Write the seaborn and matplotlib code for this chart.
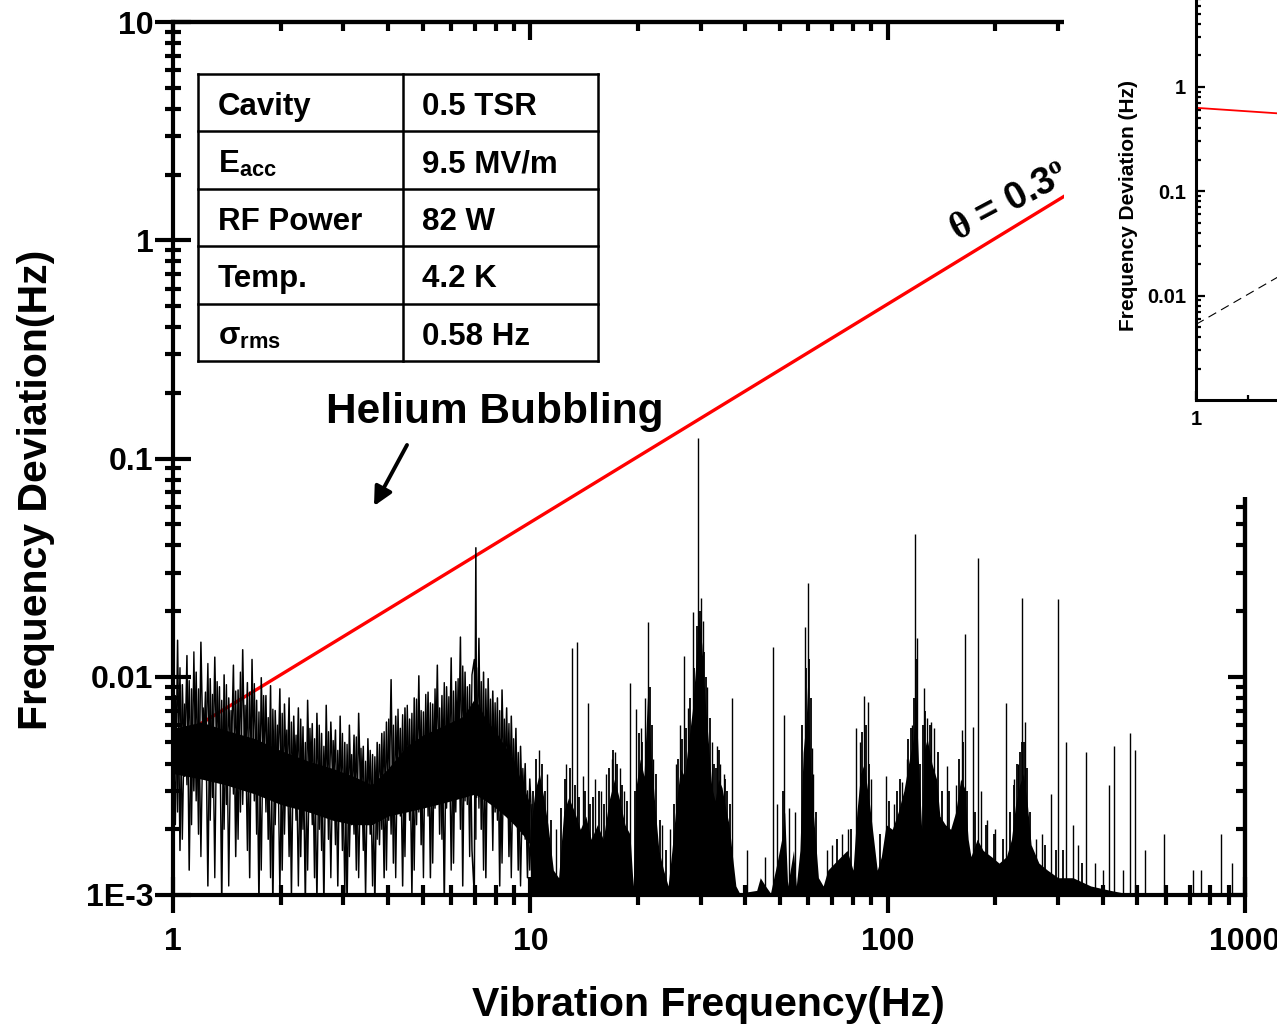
import numpy as np
import matplotlib
matplotlib.use("Agg")
import matplotlib.pyplot as plt
import seaborn as sns
from matplotlib.patches import Rectangle
from matplotlib.ticker import LogLocator, NullFormatter

# ---------------- data ----------------
# theta = 0.3 deg threshold line
theta_freq = [1.0, 1000.0]
theta_dev = [0.0051, 5.1]

# low-frequency noise 1-10 Hz (two interleaved zig-zag traces)
noise_freq = [
    1.000, 1.015, 1.030, 1.046, 1.062, 1.078, 1.094, 1.110, 1.127, 1.144,
    1.161, 1.179, 1.197, 1.215, 1.233, 1.252, 1.271, 1.290, 1.309, 1.329,
    1.349, 1.369, 1.390, 1.411, 1.432, 1.454, 1.476, 1.498, 1.521, 1.544,
    1.567, 1.591, 1.615, 1.639, 1.664, 1.689, 1.714, 1.740, 1.766, 1.793,
    1.820, 1.847, 1.875, 1.903, 1.932, 1.961, 1.991, 2.021, 2.051, 2.082,
    2.113, 2.145, 2.177, 2.210, 2.243, 2.277, 2.311, 2.346, 2.381, 2.417,
    2.453, 2.490, 2.528, 2.566, 2.605, 2.644, 2.684, 2.724, 2.765, 2.807,
    2.849, 2.892, 2.936, 2.980, 3.025, 3.070, 3.116, 3.163, 3.211, 3.259,
    3.308, 3.358, 3.408, 3.459, 3.511, 3.564, 3.618, 3.672, 3.727, 3.783,
    3.840, 3.898, 3.957, 4.016, 4.077, 4.138, 4.200, 4.263, 4.327, 4.392,
    4.458, 4.525, 4.593, 4.662, 4.732, 4.803, 4.875, 4.948, 5.022, 5.097,
    5.174, 5.252, 5.331, 5.411, 5.492, 5.574, 5.658, 5.743, 5.829, 5.916,
    6.005, 6.095, 6.186, 6.279, 6.373, 6.469, 6.566, 6.664, 6.764, 6.866,
    6.969, 7.040, 7.074, 7.180, 7.288, 7.397, 7.508, 7.621, 7.735, 7.851,
    7.969, 8.089, 8.210, 8.333, 8.458, 8.585, 8.714, 8.845, 8.978, 9.113,
    9.250, 9.389, 9.530, 9.673, 9.818, 9.965, 10.11,
]
noise_dev_a = [
    0.0058, 0.0021, 0.0147, 0.0016, 0.0092, 0.0035, 0.0125, 0.0013, 0.0088, 0.0030,
    0.0105, 0.0019, 0.0144, 0.0040, 0.0085, 0.0011, 0.0098, 0.0028, 0.0123, 0.0033,
    0.0090, 0.0009, 0.0102, 0.0026, 0.0080, 0.0038, 0.0113, 0.0015, 0.0087, 0.0024,
    0.0133, 0.0031, 0.0094, 0.0012, 0.0120, 0.0027, 0.0078, 0.0009, 0.0099, 0.0034,
    0.0082, 0.0018, 0.0091, 0.0009, 0.0070, 0.0029, 0.0088, 0.0013, 0.0075, 0.0026,
    0.0080, 0.0010, 0.0066, 0.0022, 0.0072, 0.0015, 0.0059, 0.0009, 0.0078, 0.0024,
    0.0061, 0.0012, 0.0068, 0.0020, 0.0055, 0.0009, 0.0074, 0.0018, 0.0062, 0.0028,
    0.0057, 0.0011, 0.0066, 0.0016, 0.0050, 0.0009, 0.0060, 0.0021, 0.0054, 0.0013,
    0.0068, 0.0024, 0.0048, 0.0010, 0.0052, 0.0019, 0.0044, 0.0009, 0.0050, 0.0017,
    0.0055, 0.0012, 0.0062, 0.0022, 0.0097, 0.0014, 0.0066, 0.0024, 0.0058, 0.0011,
    0.0072, 0.0026, 0.0064, 0.0010, 0.0080, 0.0021, 0.0101, 0.0017, 0.0069, 0.0027,
    0.0085, 0.0012, 0.0075, 0.0025, 0.0113, 0.0019, 0.0082, 0.0009, 0.0090, 0.0028,
    0.0122, 0.0014, 0.0095, 0.0030, 0.0152, 0.0011, 0.0105, 0.0026, 0.0092, 0.0016,
    0.0010, 0.0390, 0.0028, 0.0150, 0.0020, 0.0105, 0.0012, 0.0098, 0.0030, 0.0086,
    0.0024, 0.0080, 0.0011, 0.0087, 0.0027, 0.0072, 0.0015, 0.0066, 0.0022, 0.0058,
    0.0013, 0.0048, 0.0019, 0.0040, 0.0012, 0.0034, 0.0020,
]
noise_dev_b = [
    0.0030, 0.0082, 0.0024, 0.0110, 0.0018, 0.0075, 0.0032, 0.0096, 0.0021, 0.0130,
    0.0027, 0.0088, 0.0015, 0.0072, 0.0036, 0.0115, 0.0022, 0.0083, 0.0012, 0.0095,
    0.0033, 0.0078, 0.0020, 0.0092, 0.0011, 0.0070, 0.0029, 0.0086, 0.0018, 0.0105,
    0.0026, 0.0074, 0.0016, 0.0085, 0.0031, 0.0093, 0.0019, 0.0069, 0.0013, 0.0082,
    0.0024, 0.0065, 0.0012, 0.0071, 0.0021, 0.0060, 0.0010, 0.0068, 0.0019, 0.0057,
    0.0015, 0.0062, 0.0026, 0.0054, 0.0011, 0.0064, 0.0020, 0.0050, 0.0013, 0.0058,
    0.0021, 0.0052, 0.0009, 0.0060, 0.0016, 0.0048, 0.0023, 0.0056, 0.0012, 0.0051,
    0.0017, 0.0046, 0.0022, 0.0055, 0.0010, 0.0049, 0.0015, 0.0044, 0.0019, 0.0053,
    0.0012, 0.0047, 0.0016, 0.0041, 0.0021, 0.0046, 0.0011, 0.0043, 0.0018, 0.0049,
    0.0020, 0.0056, 0.0013, 0.0064, 0.0019, 0.0060, 0.0012, 0.0071, 0.0023, 0.0067,
    0.0015, 0.0074, 0.0022, 0.0068, 0.0013, 0.0079, 0.0024, 0.0070, 0.0012, 0.0083,
    0.0023, 0.0076, 0.0014, 0.0088, 0.0026, 0.0072, 0.0018, 0.0094, 0.0025, 0.0081,
    0.0013, 0.0086, 0.0024, 0.0098, 0.0020, 0.0112, 0.0027, 0.0090, 0.0015, 0.0102,
    0.0120, 0.0018, 0.0110, 0.0025, 0.0095, 0.0013, 0.0088, 0.0027, 0.0079, 0.0016,
    0.0076, 0.0022, 0.0070, 0.0014, 0.0064, 0.0025, 0.0061, 0.0012, 0.0052, 0.0021,
    0.0045, 0.0011, 0.0038, 0.0018, 0.0030, 0.0013, 0.0026,
]

# dense core of the low-frequency noise
core_freq = [1.0, 1.2, 1.4, 1.7, 2.0, 2.4, 2.8, 3.2, 3.6, 4.0, 4.5,
             5.0, 5.5, 6.0, 6.5, 7.0, 7.5, 8.0, 8.5, 9.0, 9.5, 10.0]
core_low = [0.0036, 0.0034, 0.0032, 0.0029, 0.0026, 0.0024, 0.0022, 0.0021, 0.0021, 0.0023, 0.0024,
            0.0025, 0.0026, 0.0027, 0.0028, 0.0029, 0.0027, 0.0025, 0.0023, 0.0021, 0.0019, 0.0017]
core_high = [0.0058, 0.0062, 0.0057, 0.0052, 0.0046, 0.0041, 0.0038, 0.0035, 0.0032, 0.0038, 0.0048,
             0.0054, 0.0058, 0.0062, 0.0066, 0.0080, 0.0064, 0.0056, 0.0048, 0.0041, 0.0032, 0.0026]

# solid band 10-1000 Hz (upper edge)
band_freq = [10.0, 10.3, 10.6, 10.9, 11.2, 11.6, 12.0, 12.4, 12.8, 13.3,
             13.8, 14.3, 14.8, 15.4, 16.0, 16.6, 17.2, 17.8, 18.4, 19.0,
             19.4, 19.8, 20.3, 20.8, 21.3, 21.8, 22.3, 22.9, 23.6, 24.3,
             24.9, 25.6, 26.3, 27.0, 27.7, 28.4, 29.0, 29.6, 30.2, 30.8,
             31.5, 32.2, 32.9, 33.6, 34.4, 35.2, 36.0, 36.8, 37.6, 38.5,
             43.0, 44.0, 45.5, 47.0, 49.0, 50.5, 51.5, 52.5, 54.5, 55.5,
             56.8, 58.0, 59.2, 59.8, 60.5, 61.5, 62.8, 64.0, 66.0, 68.0,
             71.0, 74.0, 77.0, 80.0, 82.0, 84.0, 86.0, 87.0, 89.0, 91.0,
             93.5, 96.0, 99.0, 103.0, 107.0, 111.0, 115.0, 118.0, 120.0, 122.0,
             124.5, 126.5, 129.0, 133.0, 137.0, 140.0, 145.0, 150.0, 155.0, 160.0,
             164.0, 168.0, 171.0, 178.0, 185.0, 195.0, 205.0, 215.0, 222.0, 228.0,
             234.0, 240.0, 246.0, 252.0, 265.0, 280.0, 300.0, 330.0, 370.0, 420.0,
             460.0, 1000.0]
band_top = [0.0020, 0.0030, 0.0036, 0.0028, 0.0021, 0.0013, 0.0012, 0.0024, 0.0028, 0.0024,
            0.0020, 0.0023, 0.0018, 0.0021, 0.0018, 0.0027, 0.0034, 0.0027, 0.0021, 0.0019,
            0.0011, 0.0032, 0.0042, 0.0035, 0.0085, 0.0042, 0.0026, 0.0016, 0.0013, 0.0011,
            0.0016, 0.0026, 0.0038, 0.0035, 0.0050, 0.0070, 0.0110, 0.0190, 0.0140, 0.0080,
            0.0050, 0.0031, 0.0027, 0.0034, 0.0031, 0.0025, 0.0021, 0.0015, 0.0011, 0.00102,
            0.00105, 0.0012, 0.0011, 0.00102, 0.0014, 0.0018, 0.0024, 0.0011, 0.0016, 0.0011,
            0.0016, 0.0045, 0.0065, 0.0100, 0.0050, 0.0027, 0.0018, 0.0012, 0.0011, 0.0013,
            0.0014, 0.0015, 0.0016, 0.0013, 0.0024, 0.0036, 0.0040, 0.0034, 0.0026, 0.0019,
            0.0013, 0.0015, 0.0021, 0.0020, 0.0024, 0.0030, 0.0042, 0.0052, 0.0080, 0.0040,
            0.0020, 0.0046, 0.0052, 0.0040, 0.0034, 0.0023, 0.0021, 0.0020, 0.0024, 0.0034,
            0.0031, 0.0018, 0.0015, 0.0018, 0.0016, 0.0015, 0.0014, 0.0015, 0.0018, 0.0026,
            0.0032, 0.0036, 0.0026, 0.0017, 0.0014, 0.0013, 0.0012, 0.0012, 0.0011, 0.00105,
            0.00102, 0.00102]

# narrow spectral lines
line_freq = [10.6, 11.1, 11.8, 12.6, 13.1, 13.5, 14.0, 14.5, 15.2, 15.8,
             16.3, 16.9, 17.3, 17.8, 18.3, 19.0, 19.8, 20.4, 21.0, 21.3,
             22.0, 23.4, 24.6, 25.6, 26.3, 27.0, 27.6, 28.5, 29.4, 30.0,
             30.4, 31.3, 32.2, 33.3, 34.0, 34.8, 36.6, 40.4, 45.3, 47.7,
             49.1, 51.3, 53.0, 55.2, 58.6, 59.7, 61.4, 62.0, 67.5, 70.0,
             74.5, 77.5, 81.7, 83.5, 85.8, 88.1, 90.0, 99.1, 104.0, 110.0,
             113.0, 117.0, 119.5, 121.0, 126.3, 129.2, 132.0, 135.0, 146.9, 155.0,
             161.5, 165.0, 173.0, 178.9, 182.9, 190.0, 200.0, 214.7, 226.0, 232.0,
             238.2, 242.8, 260.0, 270.0, 287.0, 299.5, 316.0, 330.0, 340.0, 358.0,
             380.0, 400.0, 416.0, 430.0, 455.0, 477.0, 492.0, 524.0, 595.0, 715.0,
             751.0, 858.0, 918.0]
line_peak = [0.0046, 0.0036, 0.0020, 0.0040, 0.0135, 0.0144, 0.0035, 0.0076, 0.0034, 0.0030,
             0.0036, 0.0042, 0.0045, 0.0038, 0.0030, 0.0094, 0.0071, 0.0058, 0.0080, 0.0178,
             0.0042, 0.0021, 0.0020, 0.0040, 0.0060, 0.0124, 0.0072, 0.0197, 0.1240, 0.0230,
             0.0180, 0.0090, 0.0050, 0.0048, 0.0040, 0.0036, 0.0080, 0.0016, 0.0015, 0.0137,
             0.0026, 0.0067, 0.0025, 0.0024, 0.0169, 0.0269, 0.0047, 0.0036, 0.0016, 0.0017,
             0.0019, 0.0020, 0.0058, 0.0050, 0.0082, 0.0077, 0.0034, 0.0035, 0.0026, 0.0033,
             0.0042, 0.0060, 0.0450, 0.0150, 0.0089, 0.0065, 0.0062, 0.0058, 0.0039, 0.0032,
             0.0057, 0.0157, 0.0059, 0.0350, 0.0030, 0.0022, 0.0020, 0.0076, 0.0034, 0.0040,
             0.0230, 0.0062, 0.0018, 0.0019, 0.0029, 0.0227, 0.0050, 0.0021, 0.0017, 0.0045,
             0.0014, 0.0013, 0.0032, 0.0048, 0.0013, 0.0055, 0.0046, 0.0016, 0.0019, 0.0013,
             0.0013, 0.0019, 0.0014]

# smaller lines making the ragged top of the band
rag_freq = [10.2, 10.4, 10.8, 11.0, 11.4, 12.2, 12.5, 12.9, 13.3, 13.7,
            14.2, 14.7, 15.0, 15.6, 16.1, 16.6, 17.0, 17.5, 18.1, 18.7,
            19.6, 20.1, 20.6, 21.6, 21.9, 22.5, 23.0, 24.0, 25.2, 25.9,
            26.6, 27.3, 28.0, 28.8, 29.2, 29.8, 30.6, 31.0, 31.8, 32.6,
            33.0, 33.8, 35.0, 35.6, 36.3, 50.8, 57.5, 59.0, 60.2, 60.9,
            63.2, 72.0, 79.0, 84.8, 86.8, 88.9, 95.0, 101.0, 106.0, 108.5,
            114.0, 116.0, 118.5, 120.5, 123.0, 125.5, 127.5, 131.0, 138.0, 142.0,
            148.0, 158.0, 162.5, 167.0, 176.0, 188.0, 198.0, 210.0, 220.0, 225.0,
            230.0, 235.0, 237.0, 241.0, 245.0, 250.0, 275.0, 295.0, 310.0, 350.0]
rag_peak = [0.0030, 0.0042, 0.0040, 0.0030, 0.0022, 0.0025, 0.0034, 0.0038, 0.0032, 0.0028,
            0.0030, 0.0026, 0.0028, 0.0030, 0.0026, 0.0038, 0.0046, 0.0040, 0.0032, 0.0027,
            0.0030, 0.0055, 0.0050, 0.0090, 0.0060, 0.0036, 0.0022, 0.0016, 0.0026, 0.0042,
            0.0052, 0.0058, 0.0080, 0.0110, 0.0170, 0.0200, 0.0130, 0.0100, 0.0065, 0.0040,
            0.0038, 0.0046, 0.0034, 0.0030, 0.0026, 0.0030, 0.0060, 0.0110, 0.0120, 0.0080,
            0.0024, 0.0018, 0.0020, 0.0056, 0.0060, 0.0040, 0.0019, 0.0027, 0.0030, 0.0034,
            0.0052, 0.0058, 0.0080, 0.0120, 0.0040, 0.0060, 0.0070, 0.0060, 0.0045, 0.0030,
            0.0030, 0.0042, 0.0050, 0.0030, 0.0024, 0.0021, 0.0019, 0.0018, 0.0024, 0.0032,
            0.0040, 0.0045, 0.0050, 0.0050, 0.0038, 0.0024, 0.0017, 0.0016, 0.0016, 0.0014]

# inset (partly visible) lines
inset_red_freq = [1.0, 3.0]
inset_red_dev = [0.63, 0.557]
inset_dash_freq = [1.0, 3.0]
inset_dash_dev = [0.0053, 0.0152]

# table
table_keys = ["Cavity", r"E$_{\mathrm{acc}}$", "RF Power", "Temp.", r"σ$_{\mathrm{rms}}$"]
table_vals = ["0.5 TSR", "9.5 MV/m", "82 W", "4.2 K", "0.58 Hz"]

# ticks
x_ticks = [1, 10, 100, 1000]
x_tick_labels = ["1", "10", "100", "1000"]
y_ticks = [1e-3, 1e-2, 1e-1, 1, 10]
y_tick_labels = ["1E-3", "0.01", "0.1", "1", "10"]
inset_x_ticks = [1]
inset_x_labels = ["1"]
inset_y_ticks = [0.01, 0.1, 1]
inset_y_labels = ["0.01", "0.1", "1"]

# ---------------- style ----------------
sns.set_theme(style="ticks")
plt.rcParams["font.family"] = ["Liberation Sans", "DejaVu Sans"]
plt.rcParams["font.weight"] = "bold"
plt.rcParams["axes.labelweight"] = "bold"
plt.rcParams["text.color"] = "black"
plt.rcParams["axes.labelcolor"] = "black"
plt.rcParams["xtick.color"] = "black"
plt.rcParams["ytick.color"] = "black"
plt.rcParams["axes.edgecolor"] = "black"
plt.rcParams["mathtext.fontset"] = "custom"
plt.rcParams["mathtext.rm"] = "Liberation Sans:bold"
plt.rcParams["mathtext.bf"] = "Liberation Sans:bold"
plt.rcParams["mathtext.sf"] = "Liberation Sans:bold"
plt.rcParams["mathtext.it"] = "Liberation Serif"

W, H = 1277, 1029
fig = plt.figure(figsize=(W / 100, H / 100), dpi=100, facecolor="white")

ax = fig.add_axes([173 / W, (H - 895) / H, 1072 / W, 873 / H], zorder=0)
ax.set_xscale("log")
ax.set_yscale("log")

# spectrum
ax.fill_between(core_freq, core_low, core_high, color="black", lw=0, zorder=3)
ax.fill_between(band_freq, 0.0009, band_top, color="black", lw=0, zorder=3)
ax.vlines(rag_freq, 0.0009, rag_peak, color="black", lw=1.3, zorder=4)
ax.vlines(line_freq, 0.0009, line_peak, color="black", lw=1.0, zorder=4)
sns.lineplot(x=noise_freq, y=noise_dev_a, ax=ax, color="black", linewidth=1.1,
             estimator=None, sort=False, zorder=4)
sns.lineplot(x=noise_freq, y=noise_dev_b, ax=ax, color="black", linewidth=1.0,
             estimator=None, sort=False, zorder=4)
# threshold line
sns.lineplot(x=theta_freq, y=theta_dev, ax=ax, color="#ff0000", linewidth=2.4, zorder=2)

ax.set_xlim(1, 1000)
ax.set_ylim(1e-3, 10)
ax.set_xticks(x_ticks, labels=x_tick_labels)
ax.set_yticks(y_ticks, labels=y_tick_labels)
ax.xaxis.set_minor_locator(LogLocator(base=10, subs=np.arange(2, 10) * 1.0, numticks=30))
ax.yaxis.set_minor_locator(LogLocator(base=10, subs=np.arange(2, 10) * 1.0, numticks=30))
ax.xaxis.set_minor_formatter(NullFormatter())
ax.yaxis.set_minor_formatter(NullFormatter())
for s in ax.spines.values():
    s.set_linewidth(3)
    s.set_color("black")
ax.tick_params(axis="y", which="major", direction="inout", length=26, width=3, pad=1,
               labelsize=23, colors="black")
ax.tick_params(axis="y", which="minor", direction="inout", length=12, width=3)
ax.tick_params(axis="x", which="major", direction="inout", length=26, width=3, pad=10,
               labelsize=23, colors="black")
ax.tick_params(axis="x", which="minor", direction="inout", length=14, width=3)
for lab in ax.get_xticklabels() + ax.get_yticklabels():
    lab.set_fontweight("bold")

# top / right inward ticks
secx = ax.secondary_xaxis("top")
secx.set_xticks(x_ticks)
secx.xaxis.set_minor_locator(LogLocator(base=10, subs=np.arange(2, 10) * 1.0, numticks=30))
secx.xaxis.set_major_formatter(NullFormatter())
secx.xaxis.set_minor_formatter(NullFormatter())
secx.tick_params(which="major", direction="in", length=13, width=3)
secx.tick_params(which="minor", direction="in", length=6.5, width=3)
secx.spines["top"].set_linewidth(3)
secy = ax.secondary_yaxis("right")
secy.set_yticks(y_ticks)
secy.yaxis.set_minor_locator(LogLocator(base=10, subs=np.arange(2, 10) * 1.0, numticks=30))
secy.yaxis.set_major_formatter(NullFormatter())
secy.yaxis.set_minor_formatter(NullFormatter())
secy.tick_params(which="major", direction="in", length=12, width=3)
secy.tick_params(which="minor", direction="in", length=6.5, width=3)
secy.spines["right"].set_linewidth(3)

# axis labels
ax.set_xlabel("Vibration Frequency(Hz)", fontsize=29.5, fontweight="bold")
ax.set_ylabel("Frequency Deviation(Hz)", fontsize=29.5, fontweight="bold")
ax.xaxis.label.set_va("center")
ax.yaxis.label.set_va("center")
ax.xaxis.set_label_coords(0.499, -0.126)
ax.yaxis.set_label_coords(-0.128, 0.464)

# annotations
ax.text(0.780, 0.794, r"$\theta$ = 0.3$^{o}$", transform=ax.transAxes, rotation=28,
        rotation_mode="anchor", ha="center", va="center", fontsize=27, fontweight="bold",
        zorder=6)
ax.text(0.3004, 0.5533, "Helium Bubbling", transform=ax.transAxes, ha="center",
        va="center", fontsize=30.5, fontweight="bold", zorder=6)
ax.annotate("", xy=(0.1875, 0.4456), xytext=(0.2183, 0.5155),
            xycoords="axes fraction", textcoords="axes fraction",
            arrowprops=dict(arrowstyle="-|>", lw=2.8, color="black",
                            mutation_scale=28, shrinkA=0, shrinkB=0), zorder=6)

# table
tx0, txm, tx1 = 0.0233, 0.2146, 0.3965
ty_top, ty_bot = 0.9404, 0.6117
nrows = len(table_keys)
row_h = (ty_top - ty_bot) / nrows
for i in range(nrows + 1):
    yy = ty_top - i * row_h
    ax.plot([tx0, tx1], [yy, yy], transform=ax.transAxes, color="black", lw=1.8,
            solid_capstyle="projecting", zorder=6, clip_on=False)
for xx in (tx0, txm, tx1):
    ax.plot([xx, xx], [ty_bot, ty_top], transform=ax.transAxes, color="black", lw=1.8,
            solid_capstyle="projecting", zorder=6, clip_on=False)
for i, (k, v) in enumerate(zip(table_keys, table_vals)):
    yb = ty_top - i * row_h - 0.7145 * row_h
    ax.text(0.042, yb, k, transform=ax.transAxes, ha="left", va="baseline",
            fontsize=22.5, fontweight="bold", zorder=6)
    ax.text(0.2323, yb, v, transform=ax.transAxes, ha="left", va="baseline",
            fontsize=22.5, fontweight="bold", zorder=6)

# white area of the overlapping inset picture
fig.add_artist(Rectangle((1064 / W, (H - 497) / H), 1, 1, transform=fig.transFigure,
                         facecolor="white", edgecolor="none", zorder=2))

# inset axes (partly outside the canvas)
ax_in = fig.add_axes([1196 / W, (H - 400) / H, 519 / W, 417.5 / H], zorder=3)
ax_in.set_facecolor("white")
ax_in.set_xscale("log")
ax_in.set_yscale("log")
sns.lineplot(x=inset_red_freq, y=inset_red_dev, ax=ax_in, color="#ff0000", linewidth=1.3)
ax_in.plot(inset_dash_freq, inset_dash_dev, color="black", lw=0.8, linestyle=(0, (8, 5)))
ax_in.set_xlim(1, 1000)
ax_in.set_ylim(1e-3, 10)
ax_in.set_xticks(inset_x_ticks, labels=inset_x_labels)
ax_in.set_yticks(inset_y_ticks, labels=inset_y_labels)
ax_in.xaxis.set_minor_locator(LogLocator(base=10, subs=np.arange(2, 10) * 1.0, numticks=30))
ax_in.yaxis.set_minor_locator(LogLocator(base=10, subs=np.arange(2, 10) * 1.0, numticks=30))
ax_in.xaxis.set_minor_formatter(NullFormatter())
ax_in.yaxis.set_minor_formatter(NullFormatter())
for s in ax_in.spines.values():
    s.set_linewidth(2.2)
    s.set_color("black")
ax_in.tick_params(which="major", direction="in", length=6.5, width=1.6, labelsize=14.5, pad=7,
                  colors="black")
ax_in.tick_params(which="minor", direction="in", length=3.5, width=1.6)
for lab in ax_in.get_xticklabels() + ax_in.get_yticklabels():
    lab.set_fontweight("bold")
ax_in.set_ylabel("Frequency Deviation (Hz)", fontsize=15, fontweight="bold")
ax_in.yaxis.label.set_va("center")
ax_in.yaxis.set_label_coords(-0.131, 0.467)

fig.savefig("out.png", dpi=100, facecolor="white")
